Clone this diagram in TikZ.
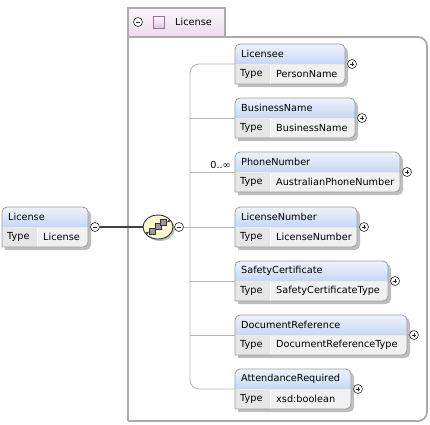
\documentclass[tikz,border=0pt]{standalone}
\usepackage{fontspec}
\setmainfont{DejaVu Sans}
\usepackage{tikz}
\usetikzlibrary{shapes.geometric}

\definecolor{hdrtop}{HTML}{EEF3FC}
\definecolor{hdrbot}{HTML}{C6D7F2}
\definecolor{typebg}{HTML}{F1F1F1}
\definecolor{typecellbg}{HTML}{E6E6E6}
\definecolor{boxborder}{HTML}{9C9C9C}
\definecolor{shadowgray}{HTML}{BEBEBE}
\definecolor{framegray}{HTML}{ABABAB}
\definecolor{tabtop}{HTML}{FBF5FB}
\definecolor{tabbot}{HTML}{EADBEA}
\definecolor{seqfill}{HTML}{FFFAD0}
\definecolor{treegray}{HTML}{B4B4B4}
\definecolor{attrpurple}{HTML}{A468A4}

\tikzset{
  lbl/.style={anchor=west,inner sep=0pt,font=\fontsize{9.7}{11}\selectfont},
  boxline/.style={draw=boxborder,line width=0.8pt},
  treeline/.style={draw=treegray,line width=0.9pt},
  btn/.style={circle,draw=black!85,fill=white,minimum size=9pt,inner sep=0pt,line width=0.6pt},
  minusbtn/.style={btn,path picture={\draw[line width=0.7pt] ([xshift=-2.4pt]path picture bounding box.center)--([xshift=2.4pt]path picture bounding box.center);}},
  plusbtn/.style={btn,path picture={\draw[line width=0.7pt] ([xshift=-2.4pt]path picture bounding box.center)--([xshift=2.4pt]path picture bounding box.center);
      \draw[line width=0.7pt] ([yshift=-2.4pt]path picture bounding box.center)--([yshift=2.4pt]path picture bounding box.center);}}
}

% name, left, top, width, title, type, button
\newcommand{\xsdelement}[7]{%
  \fill[shadowgray,rounded corners=5] (#2+3,#3+43)--(#2+3,#3+3)--(#2+#4+3,#3+3)--(#2+#4+3,#3+43)--(#2+3,#3+43);
  \fill[typebg,rounded corners=5] (#2,#3+40)--(#2,#3)--(#2+#4,#3)--(#2+#4,#3+40)--(#2,#3+40);
  \shade[top color=hdrtop,bottom color=hdrbot,rounded corners=5] (#2,#3+20)--(#2,#3)--(#2+#4,#3)--(#2+#4,#3+20);
  \fill[typecellbg] (#2,#3+20) rectangle (#2+35,#3+40);
  \draw[white,line width=1pt] (#2+35,#3+20.5)--(#2+35,#3+40);
  \draw[draw=white!80!boxborder,line width=0.6pt] (#2,#3+20)--(#2+#4,#3+20);
  \draw[boxline,rounded corners=5] (#2,#3+40)--(#2,#3)--(#2+#4,#3)--(#2+#4,#3+40)--(#2,#3+40);
  \node[lbl] (#1) at (#2+6,#3+10) {#5};
  \node[lbl] (#1-typelbl) at (#2+5,#3+30) {Type};
  \node[lbl] (#1-type) at (#2+41,#3+30) {#6};
  \coordinate (#1-in) at (#2,#3+20);
  \node[#7] (#1-btn) at (#2+#4+7,#3+20) {};
}

\begin{document}
\begin{tikzpicture}[x=1pt,y=-1pt]
\useasboundingbox (0,0) rectangle (430,424);

\shade[top color=tabtop,bottom color=tabbot] (128,8) rectangle (225,37);
\draw[framegray,line width=1.8pt] (225,37)--(128,37);
\draw[framegray,line width=1.8pt,rounded corners=9] (225,37)--(427,37)--(427,421)--(128,421);
\draw[framegray,line width=1.8pt] (128,421)--(128,8)--(225,8)--(225,37);
\node[minusbtn] (group-btn) at (138,22) {};
\shade[top color=white,bottom color=tabbot!80!attrpurple,draw=attrpurple,line width=0.8pt] (153,16) rectangle (164,28);
\node[lbl] (group) at (175,22) {License};

\xsdelement{license}{2}{207}{86}{License}{License}{minusbtn}
\xsdelement{licensee}{235}{44}{110}{Licensee}{PersonName}{plusbtn}
\xsdelement{businessname}{235}{98}{120}{BusinessName}{BusinessName}{plusbtn}
\xsdelement{phonenumber}{235}{152}{165}{PhoneNumber}{AustralianPhoneNumber}{plusbtn}
\xsdelement{licensenumber}{235}{207}{122}{LicenseNumber}{LicenseNumber}{plusbtn}
\xsdelement{safetycertificate}{235}{261}{153}{SafetyCertificate}{SafetyCertificateType}{plusbtn}
\xsdelement{documentreference}{235}{315}{172}{DocumentReference}{DocumentReferenceType}{plusbtn}
\xsdelement{attendancerequired}{235}{369}{116}{AttendanceRequired}{xsd:boolean}{plusbtn}

\fill[shadowgray] (160,229) ellipse [x radius=15,y radius=12];
\node[ellipse,draw=black!80,line width=0.9pt,fill=seqfill,minimum width=30pt,minimum height=24pt,inner sep=0pt] (seq) at (158,227) {};
\draw[black!80,line width=0.7pt] (147,233)--(169,221);
\foreach \k in {0,1,2}
  \draw[black!80,fill=black!40,line width=0.5pt] (149.5+5.5*\k,234-4.5*\k) rectangle +(6,-6);
\fill[black!85] (147,233) circle (1.1) (169,221) circle (1.1);
\node[minusbtn] (seq-btn) at (179,227) {};

\draw[black!75,line width=1.5pt] (license-btn)--(seq);
\coordinate (trunk) at (190,227);
\draw[treeline] (seq-btn)--(trunk);
\draw[treeline,rounded corners=9] (licensee-in) -| (trunk) |- (attendancerequired-in);
\draw[treeline] (businessname-in)--(businessname-in -| trunk);
\draw[treeline] (phonenumber-in)--(phonenumber-in -| trunk);
\draw[treeline] (licensenumber-in)--(licensenumber-in -| trunk);
\draw[treeline] (safetycertificate-in)--(safetycertificate-in -| trunk);
\draw[treeline] (documentreference-in)--(documentreference-in -| trunk);
\node[lbl,anchor=south east,inner sep=1pt] (phonenumber-occ) at ([xshift=-3pt,yshift=2pt]phonenumber-in) {0..∞};
\end{tikzpicture}
\end{document}
